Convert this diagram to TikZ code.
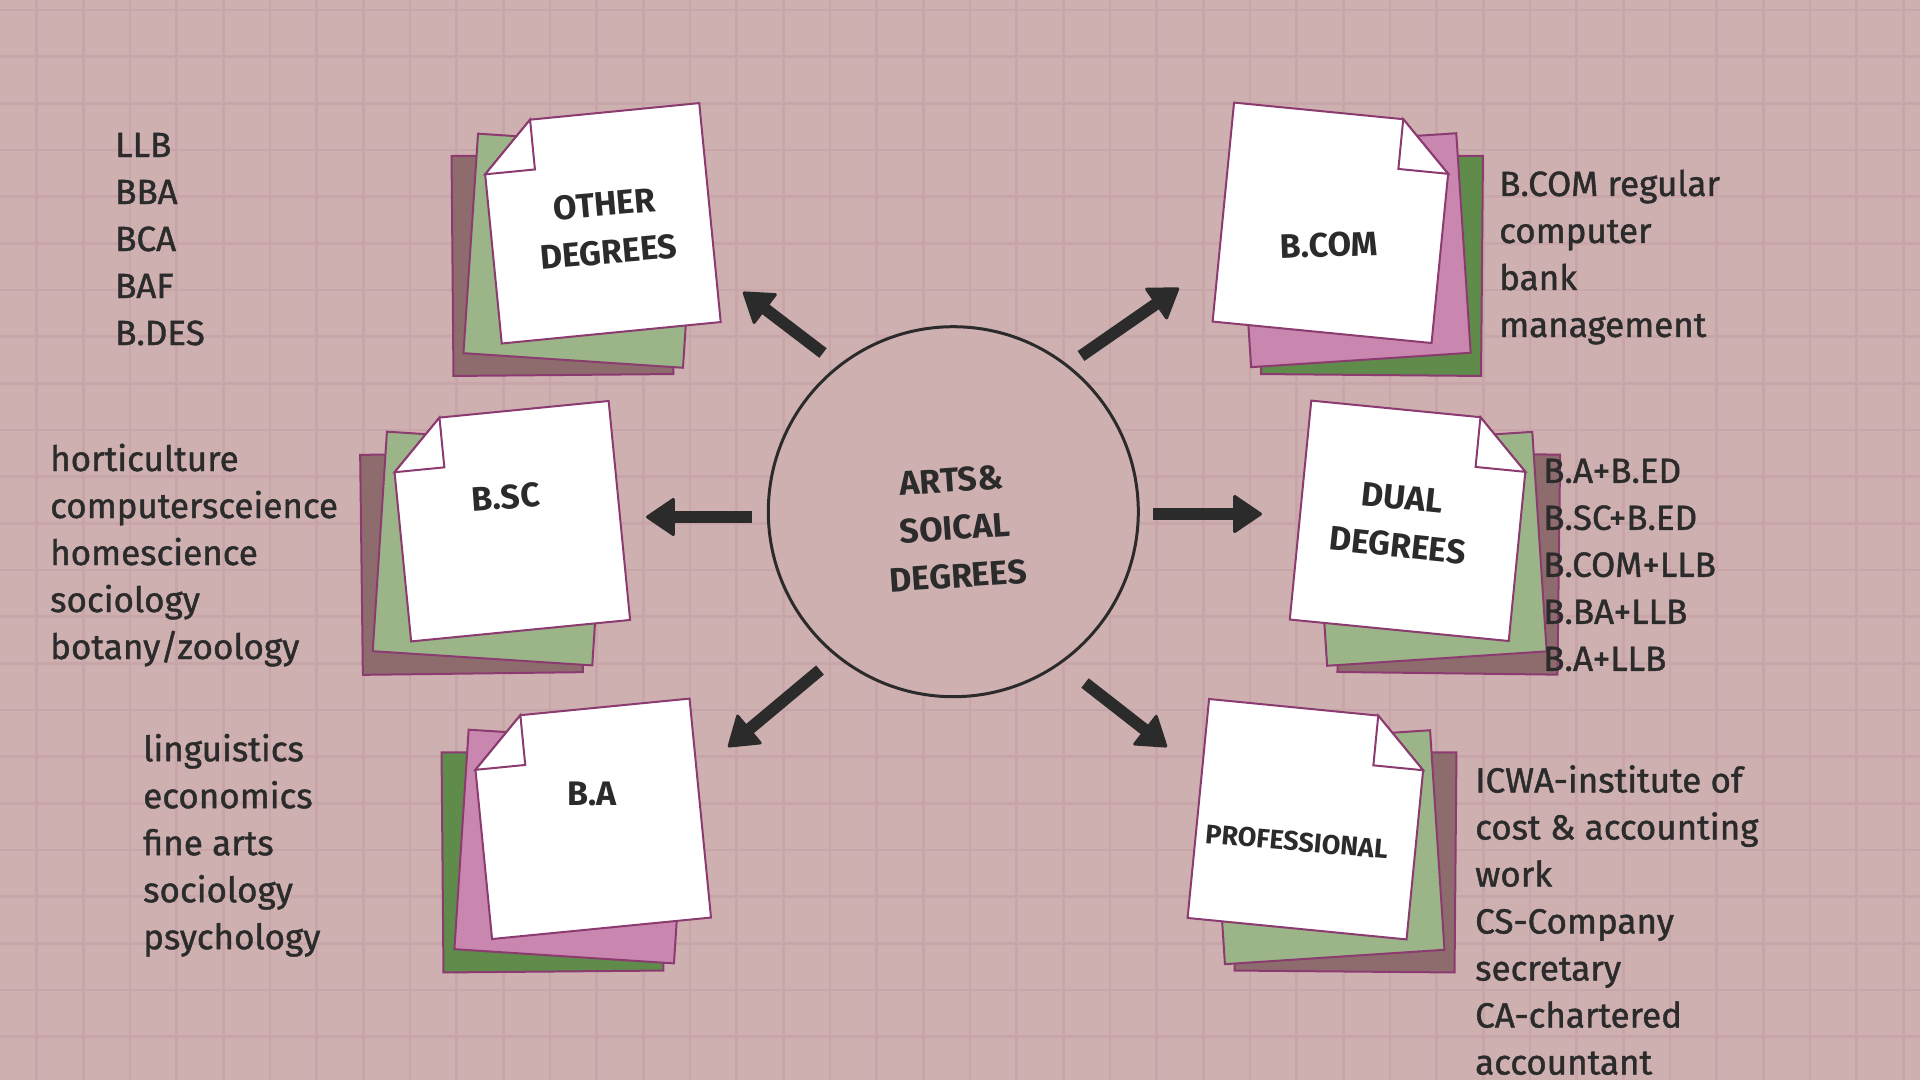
\documentclass[tikz,border=0pt]{standalone}
\usepackage{fontspec}
\setmainfont{Fira Sans}
\newfontfamily\listfont{Fira Sans}[FakeBold=1.2]
\usetikzlibrary{arrows.meta}
\definecolor{bg}{HTML}{CFB0B1}
\definecolor{gridc}{HTML}{C7A5A8}
\definecolor{mauve}{HTML}{8E6C6E}
\definecolor{sage}{HTML}{9BB589}
\definecolor{fern}{HTML}{5F8B4B}
\definecolor{orchid}{HTML}{C986AF}
\definecolor{edgec}{HTML}{8B3B70}
\definecolor{ink}{HTML}{2B2B2B}
\tikzset{
  gridline/.style={draw=gridc, line width=2.5pt},
  sheetline/.style={draw=edgec, line width=2pt, line join=miter},
  hubc/.style={circle, draw=ink, line width=3pt, fill=bg, minimum size=370pt, inner sep=0pt},
  titletxt/.style={align=center, text=ink, inner sep=0pt, font=\bfseries\fontsize{34}{48}\selectfont},
  listtxt/.style={anchor=north west, inner sep=0pt, align=left, text=ink, font=\listfont\fontsize{35}{47}\selectfont},
  flow/.style={draw=ink, line width=12pt, -{Triangle[length=30pt,width=40pt,round,line width=3pt]}}
}
% plain sheet: cx, cy, rotation, colour
\newcommand{\plainsheet}[4]{%
  \begin{scope}[shift={(#1,#2)}, rotate=#3]
    \draw[sheetline, fill=#4] (-110,-110) rectangle (110,110);
  \end{scope}}
% white sheet folded at top-left corner
\newcommand{\foldleft}[3]{%
  \begin{scope}[shift={(#1,#2)}, rotate=#3]
    \draw[sheetline, fill=white] (-60,-110) -- (110,-110) -- (110,110) -- (-110,110) -- (-110,-60) -- cycle;
    \draw[sheetline, fill=white] (-110,-60) -- (-60,-110) -- (-60,-60) -- cycle;
  \end{scope}}
% white sheet folded at top-right corner
\newcommand{\foldright}[3]{%
  \begin{scope}[shift={(#1,#2)}, rotate=#3]
    \draw[sheetline, fill=white] (-110,-110) -- (60,-110) -- (110,-60) -- (110,110) -- (-110,110) -- cycle;
    \draw[sheetline, fill=white] (60,-110) -- (110,-60) -- (60,-60) -- cycle;
  \end{scope}}
\begin{document}
\begin{tikzpicture}[x=1pt,y=-1pt]
\useasboundingbox (0,0) rectangle (1920,1080);
\clip (0,0) rectangle (1920,1080);
\fill[bg] (0,0) rectangle (1920,1080);
\foreach \i in {0,...,40} {\draw[gridline] ({36.67+46.667*\i},0) -- ({36.67+46.667*\i},1080);}
\foreach \j in {0,...,22} {\draw[gridline] (0,{10+46.667*\j}) -- (1920,{10+46.667*\j});}

% hub
\node[hubc] (hub) at (953.3,511.7) {};
\node[titletxt, rotate=4] (hubtext) at (955,528) {ARTS\&\\SOICAL\\DEGREES};

% stack 1: other degrees
\plainsheet{562.5}{265}{0.5}{mauve}
\plainsheet{580.5}{250.7}{-3.8}{sage}
\foldleft{600.5}{223.3}{5.6}
\node[titletxt, rotate=5] (other) at (606.7,228) {OTHER\\DEGREES};

% stack 2: b.com
\plainsheet{1372}{265}{-0.5}{fern}
\plainsheet{1353.7}{250.2}{3.75}{orchid}
\foldright{1332.8}{222.8}{-5.6}
\node[titletxt, rotate=2] (bcom) at (1329,245) {B.COM};

% stack 3: b.sc
\plainsheet{471.5}{563.5}{0.7}{mauve}
\plainsheet{489.6}{548.5}{-3.7}{sage}
\foldleft{509.9}{521.2}{5.6}
\node[titletxt, rotate=4] (bsc) at (506,497) {B.SC};

% stack 4: dual degrees
\plainsheet{1448.8}{563.3}{-0.7}{mauve}
\plainsheet{1429.7}{548.8}{3.75}{sage}
\foldright{1410}{520.8}{-5.6}
\node[titletxt, rotate=-6] (dual) at (1400,521.7) {DUAL\\DEGREES};

% stack 5: b.a
\plainsheet{552.5}{861.5}{0.5}{fern}
\plainsheet{571.3}{846.5}{-3.7}{orchid}
\foldleft{590.8}{818.8}{5.6}
\node[titletxt] (ba) at (592,794) {B.A};

% stack 6: professional
\plainsheet{1345.5}{861.5}{-0.5}{mauve}
\plainsheet{1327.5}{847.2}{3.75}{sage}
\foldright{1307.8}{819.2}{-5.6}
\node[titletxt, rotate=-5, font=\bfseries\fontsize{27}{34}\selectfont] (prof) at (1296.7,841.7) {PROFESSIONAL};

% lists
\node[listtxt] (l1) at (115,132.7) {LLB\\BBA\\BCA\\BAF\\B.DES};
\node[listtxt] (l2) at (1499,169.5) {B.COM regular\\computer\\bank\\management};
\node[listtxt] (l3) at (50,443.5) {horticulture\\computersceience\\homescience\\sociology\\botany/zoology};
\node[listtxt] (l4) at (1543,458.5) {B.A+B.ED\\B.SC+B.ED\\B.COM+LLB\\B.BA+LLB\\B.A+LLB};
\node[listtxt] (l5) at (143,733.7) {linguistics\\economics\\fine arts\\sociology\\psychology};
\node[listtxt] (l6) at (1475,765) {ICWA-institute of\\cost \& accounting\\work\\CS-Company\\secretary\\CA-chartered\\accountant};

% arrows
\coordinate (aNWs) at (823,353);  \coordinate (aNWe) at (743,292);
\coordinate (aNEs) at (1081,356); \coordinate (aNEe) at (1179,288);
\coordinate (aWs)  at (752,517);  \coordinate (aWe)  at (646,517);
\coordinate (aEs)  at (1153,514); \coordinate (aEe)  at (1262,514);
\coordinate (aSWs) at (820,670);  \coordinate (aSWe) at (728,747);
\coordinate (aSEs) at (1085,683); \coordinate (aSEe) at (1167,747);
\draw[flow] (aNWs) -- (aNWe);
\draw[flow] (aNEs) -- (aNEe);
\draw[flow] (aWs) -- (aWe);
\draw[flow] (aEs) -- (aEe);
\draw[flow] (aSWs) -- (aSWe);
\draw[flow] (aSEs) -- (aSEe);
\end{tikzpicture}
\end{document}
